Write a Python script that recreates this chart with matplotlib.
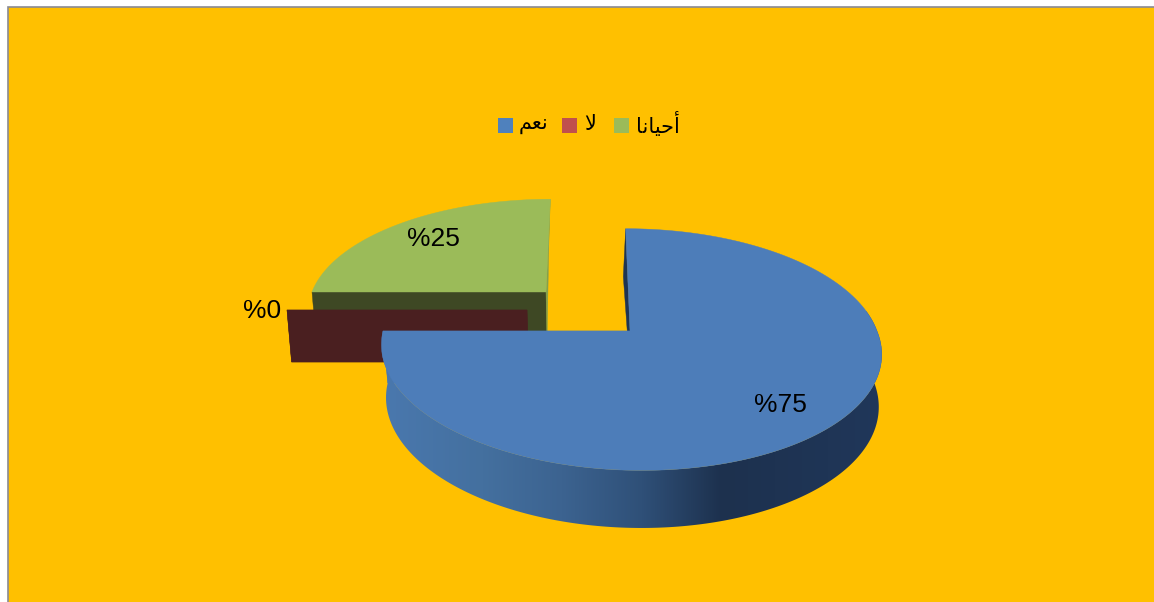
#3D looking pie chart, drawn by hand since matplotlib has no perspective pie
import numpy as np
import matplotlib
matplotlib.use("Agg")
import matplotlib.pyplot as plt
from matplotlib.colors import LinearSegmentedColormap
from matplotlib.patches import Polygon, Rectangle

values = [75, 0, 25]
# arabic written as joined presentation forms in visual order (no shaping in matplotlib)
categories = ["\ufee2\ufecc\ufee7", "\ufefb", "\ufe8e\ufee7\ufe8e\ufef4\ufea3\ufe83"]
value_labels = ["%75", "%0", "%25"]

W, H = 1154, 602
top_colors = ["#4d7db9", "#c0504d", "#9bbb59"]
legend_colors = ["#4f81bd", "#c0504d", "#9bbb59"]
wall_colors = [("#1f3552", "#4a78ae"), ("#4a1f20", "#4a1f20"), ("#3e4824", "#84a04c")]
# apex pixel, x radius, y radius up, shear of the 12 o'clock radius (top, bottom face)
slices = [(630, 331, 247, 118, -5, -9), (527, 310, 240, 112, 0, 0), (546, 292, 234, 107, 5, 2)]
label_pos = [(780, 405), (262, 311), (433, 239)]
legend_pos = [(498, 519), (562, 584), (614, 636)]

persp = 0.1535
drop = 52
kx, ky = 0.985, 1.04


def ring(geom, angles, lower=False):
    # angles are degrees clockwise from 12 o'clock
    ax0, ay0, rx, ry, shear, shear_low = geom
    t = np.radians(angles)
    u, v = np.sin(t), np.cos(t)
    den = 1 + persp * v
    y = ry * v / den
    if lower:
        x = (rx * u + shear_low * v) / den
        return np.column_stack([ax0 + 1 + kx * x, ay0 + drop - ky * y])
    # front half leans twice as much, the reference is not a clean ellipse
    x = (rx * u + shear * v * np.where(v < 0, 2, 1)) / den
    return np.column_stack([ax0 + x, ay0 - y])


fig = plt.figure(figsize=(W / 100, H / 100), dpi=100, facecolor="white")
ax = fig.add_axes([0, 0, 1, 1])
ax.set_xlim(0, W)
ax.set_ylim(H, 0)
ax.axis("off")

ax.add_patch(Rectangle((8, 7), W, H, facecolor="#ffc000", edgecolor="#8a8a94", linewidth=1.2))

cmap = LinearSegmentedColormap.from_list("rim", [
    (0.0, "#4a78ae"), (0.2, "#44709f"), (0.36, "#3c6390"), (0.52, "#2f5078"),
    (0.68, "#1d314e"), (1.0, "#20375a")])

# back to front: green, red, blue
total = sum(values)
starts = np.cumsum([0] + values[:-1]) / total * 360
for i in [2, 1, 0]:
    a0 = starts[i]
    a1 = a0 + values[i] / total * 360
    geom = slices[i]
    apex = np.array([geom[:2]], dtype=float)
    low_apex = np.array([[geom[0] + 1, geom[1] + drop]])

    for ang, col in zip((a0, a1), wall_colors[i]):
        rim_top = ring(geom, np.array([ang]))
        rim_low = ring(geom, np.array([ang]), lower=True)
        pts = np.vstack([apex, rim_top, rim_low, low_apex])
        ax.add_patch(Polygon(pts, closed=True, facecolor=col, edgecolor=col, linewidth=0.3))

    if i == 0:
        # outer side with the horizontal shading
        arc = np.linspace(80, a1, 200)
        pts = np.vstack([ring(geom, arc), ring(geom, arc[::-1], lower=True)])
        body = Polygon(pts, closed=True, facecolor="none", edgecolor="none")
        ax.add_patch(body)
        grad = np.linspace(0, 1, 256).reshape(1, -1)
        im = ax.imshow(grad, cmap=cmap, extent=(382, 882, H, 0), aspect="auto", zorder=1)
        im.set_clip_path(body)

    if values[i] > 0:
        arc = np.linspace(a0, a1, 200)
        pts = np.vstack([apex, ring(geom, arc)])
        ax.add_patch(Polygon(pts, closed=True, facecolor=top_colors[i], edgecolor=top_colors[i],
                             linewidth=0.3, zorder=2))

ax.set_xlim(0, W)
ax.set_ylim(H, 0)

for (x, y), txt in zip(label_pos, value_labels):
    ax.text(x, y, txt, fontsize=19, family="Liberation Sans", color="black",
            ha="center", va="center", zorder=3)

for (sq, tx), col, name in zip(legend_pos, legend_colors, categories):
    ax.add_patch(Rectangle((sq, 118), 15, 15, facecolor=col, edgecolor="none", zorder=3))
    ax.text(tx, 124, name, fontsize=15, family="DejaVu Sans", color="black",
            ha="left", va="center", zorder=3)

fig.savefig("out.png", dpi=100)
